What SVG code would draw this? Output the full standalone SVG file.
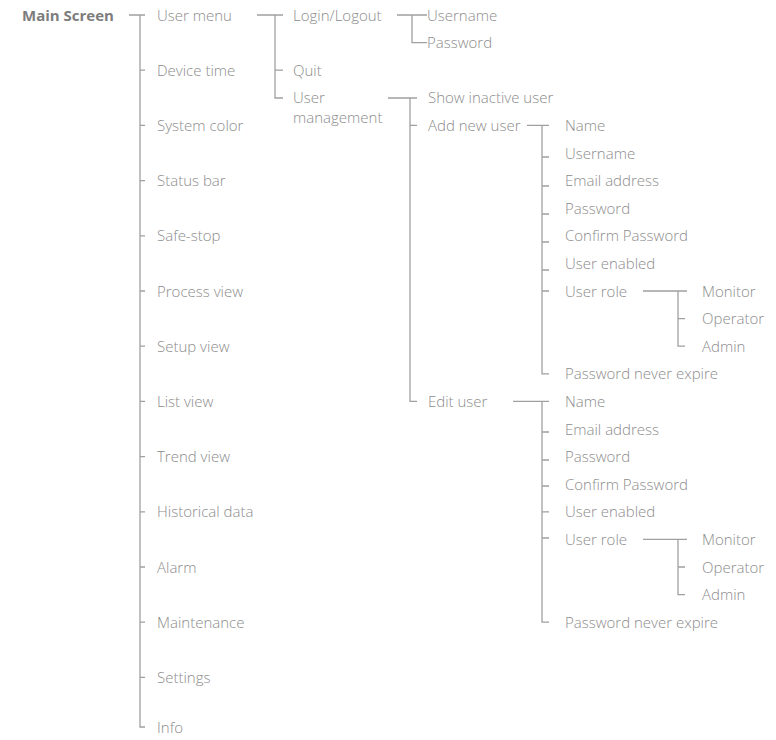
<svg xmlns="http://www.w3.org/2000/svg" width="776" height="740" viewBox="0 0 776 740">
<style>
text{font-family:"Open Sans","Noto Sans","Liberation Sans",sans-serif;font-size:15px;fill:#8c8c8c;font-weight:300}
.root{font-weight:700;fill:#7d7d7d}
.c path{fill:none;stroke:#a0a0a0;stroke-width:1.3}
</style>
<rect width="776" height="740" fill="#fff"/>
<g class="c" id="connectors">
<path d="M129 15H145M140 15V727H145M140 70.2h5M140 125.4h5M140 180.6h5M140 235.8h5M140 291h5M140 346.2h5M140 401.4h5M140 456.6h5M140 511.8h5M140 567h5M140 622.2h5M140 677.4h5"/>
<path d="M257 15H283M275 15V98H283M275 70.2h8"/>
<path d="M397 15H427M412 15V42.6H427"/>
<path d="M388 98H417M410 98V401.4H417M410 125.4h7"/>
<path d="M527 125.4H549M542 125.4V373.8H549M542 157h7M542 186h7M542 214h7M542 242h7M542 270h7M542 291h7"/>
<path d="M643 291H687M678 291V346.2H685M678 318.6h7"/>
<path d="M513 401.4H549M542 401.4V622.2H549M542 432h7M542 460h7M542 486h7M542 511.8h7M542 538h7"/>
<path d="M643 539.4H687M678 539.4V594.6H685M678 567h7"/>
</g>
<g id="main-screen"><text class="root" x="22" y="20.5">Main Screen</text></g>
<g id="user-menu"><text x="157" y="20.5">User menu</text></g>
<g id="device-time"><text x="157" y="75.7">Device time</text></g>
<g id="system-color"><text x="157" y="130.9">System color</text></g>
<g id="status-bar"><text x="157" y="186.1">Status bar</text></g>
<g id="safe-stop"><text x="157" y="241.3">Safe-stop</text></g>
<g id="process-view"><text x="157" y="296.5">Process view</text></g>
<g id="setup-view"><text x="157" y="351.7">Setup view</text></g>
<g id="list-view"><text x="157" y="406.9">List view</text></g>
<g id="trend-view"><text x="157" y="462.1">Trend view</text></g>
<g id="historical-data"><text x="157" y="517.3">Historical data</text></g>
<g id="alarm"><text x="157" y="572.5">Alarm</text></g>
<g id="maintenance"><text x="157" y="627.7">Maintenance</text></g>
<g id="settings"><text x="157" y="682.9">Settings</text></g>
<g id="info"><text x="157" y="733">Info</text></g>
<g id="login-logout"><text x="293" y="20.5">Login/Logout</text></g>
<g id="username"><text x="427" y="20.5">Username</text></g>
<g id="password"><text x="427" y="48.1">Password</text></g>
<g id="quit"><text x="293" y="75.7">Quit</text></g>
<g id="user-management"><text x="293" y="103.3">User</text><text x="293" y="123.3">management</text></g>
<g id="show-inactive-user"><text x="428" y="103.3">Show inactive user</text></g>
<g id="add-new-user"><text x="428" y="130.9">Add new user</text></g>
<g id="add-name"><text x="565" y="130.9">Name</text></g>
<g id="add-username"><text x="565" y="158.5">Username</text></g>
<g id="add-email"><text x="565" y="186.1">Email address</text></g>
<g id="add-password"><text x="565" y="213.7">Password</text></g>
<g id="add-confirm"><text x="565" y="241.3">Confirm Password</text></g>
<g id="add-enabled"><text x="565" y="268.9">User enabled</text></g>
<g id="add-role"><text x="565" y="296.5">User role</text></g>
<g id="add-monitor"><text x="702" y="296.5">Monitor</text></g>
<g id="add-operator"><text x="702" y="324.1">Operator</text></g>
<g id="add-admin"><text x="702" y="351.7">Admin</text></g>
<g id="add-never-expire"><text x="565" y="379.3">Password never expire</text></g>
<g id="edit-user"><text x="428" y="406.9">Edit user</text></g>
<g id="edit-name"><text x="565" y="406.9">Name</text></g>
<g id="edit-email"><text x="565" y="434.5">Email address</text></g>
<g id="edit-password"><text x="565" y="462.1">Password</text></g>
<g id="edit-confirm"><text x="565" y="489.7">Confirm Password</text></g>
<g id="edit-enabled"><text x="565" y="517.3">User enabled</text></g>
<g id="edit-role"><text x="565" y="544.9">User role</text></g>
<g id="edit-monitor"><text x="702" y="544.9">Monitor</text></g>
<g id="edit-operator"><text x="702" y="572.5">Operator</text></g>
<g id="edit-admin"><text x="702" y="600.1">Admin</text></g>
<g id="edit-never-expire"><text x="565" y="627.7">Password never expire</text></g>
</svg>
